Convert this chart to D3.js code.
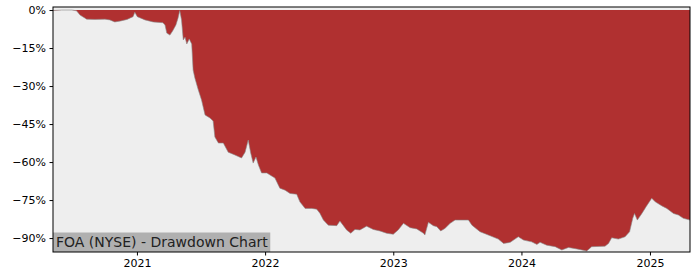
<!DOCTYPE html>
<html>
<head>
<meta charset="utf-8">
<script src="https://cdn.jsdelivr.net/npm/d3@7"></script>
<style>
  body { margin: 0; background: #fff; }
  svg text { font-family: "DejaVu Sans", sans-serif; }
</style>
</head>
<body>
<svg id="chart" width="700" height="280"></svg>
<script>
// Drawdown dates and values (percent below running peak)
var dates = [
  "2020-05-07","2020-06-01","2020-06-30","2020-07-13","2020-07-23","2020-08-11","2020-09-03","2020-10-02",
  "2020-10-16","2020-10-30","2020-11-16","2020-12-04","2020-12-21","2020-12-26","2021-01-02","2021-01-24",
  "2021-02-16","2021-03-16","2021-03-22","2021-03-27","2021-04-05","2021-04-13","2021-04-22","2021-04-28",
  "2021-05-03","2021-05-08","2021-05-13","2021-05-18","2021-05-23","2021-05-30","2021-06-06","2021-06-10",
  "2021-06-15","2021-06-24","2021-07-04","2021-07-14","2021-07-28","2021-08-06","2021-08-11","2021-08-21",
  "2021-09-04","2021-09-18","2021-10-07","2021-10-26","2021-11-05","2021-11-14","2021-11-21","2021-11-28",
  "2021-12-06","2021-12-13","2021-12-22","2022-01-06","2022-01-15","2022-01-29","2022-02-12","2022-02-27",
  "2022-03-13","2022-04-01","2022-04-10","2022-04-25","2022-05-14","2022-05-28","2022-06-06","2022-06-16",
  "2022-06-30","2022-07-24","2022-08-02","2022-08-12","2022-08-21","2022-09-02","2022-09-14","2022-09-28",
  "2022-10-17","2022-11-05","2022-11-24","2022-12-13","2023-01-01","2023-01-15","2023-01-30","2023-02-18",
  "2023-03-09","2023-03-28","2023-04-01","2023-04-11","2023-04-25","2023-05-05","2023-05-16","2023-05-28",
  "2023-06-12","2023-06-26","2023-08-03","2023-08-13","2023-09-05","2023-10-04","2023-10-27","2023-11-11",
  "2023-11-30","2023-12-23","2024-01-07","2024-01-30","2024-02-14","2024-02-23","2024-03-13","2024-04-06",
  "2024-04-25","2024-05-14","2024-06-07","2024-07-05","2024-07-19","2024-08-26","2024-09-05","2024-09-14",
  "2024-10-03","2024-10-22","2024-11-04","2024-11-13","2024-11-18","2024-11-26","2024-12-09","2024-12-21",
  "2025-01-06","2025-01-16","2025-02-04","2025-02-18","2025-03-09","2025-03-23","2025-04-06","2025-04-25"
];
var drawdown = [
  -0.2, 0, 0, -0.3, -2.0, -3.6, -3.7, -3.6,
  -3.9, -4.7, -4.3, -3.7, -2.6, -0.9, -2.6, -3.9,
  -4.7, -5.0, -5.9, -9.1, -9.9, -8.2, -5.9, -3.2,
  -0.2, -3.9, -11.8, -10.7, -13.4, -11.4, -13.4, -23.7,
  -26.8, -31.2, -35.5, -41.4, -42.6, -43.8, -50.1, -52.5,
  -52.5, -56.1, -57.2, -58.4, -56.1, -51.3, -56.4, -60.4,
  -58.0, -61.2, -64.3, -64.3, -65.1, -66.3, -70.3, -71.1,
  -72.4, -72.7, -75.7, -78.3, -78.3, -78.6, -80.2, -82.9,
  -84.9, -85.1, -83.3, -85.1, -86.8, -88.1, -86.6, -86.8,
  -85.3, -86.6, -87.2, -88.1, -88.5, -86.8, -84.2, -85.9,
  -86.4, -88.1, -88.8, -83.8, -85.1, -85.5, -87.2, -86.2,
  -84.2, -82.9, -82.9, -84.9, -87.5, -89.1, -90.4, -92.1,
  -91.7, -89.5, -90.8, -91.5, -92.5, -91.7, -92.8, -93.4,
  -94.7, -93.7, -94.3, -95.1, -93.4, -93.2, -92.1, -89.9,
  -90.4, -89.5, -87.5, -82.2, -80.3, -82.9, -80.3, -77.6,
  -74.3, -75.7, -77.3, -78.3, -80.3, -80.9, -82.2, -82.9
];
var yTicks = [0, -15, -30, -45, -60, -75, -90];
var xTickYears = [2021, 2022, 2023, 2024, 2025];
var chartLabel = "FOA (NYSE) - Drawdown Chart";

var parse = d3.timeParse("%Y-%m-%d");
var data = dates.map(function (d, i) { return { date: parse(d), value: drawdown[i] }; });

var margin = { top: 7, right: 10, bottom: 28, left: 53 };
var width = 700 - margin.left - margin.right;
var height = 280 - margin.top - margin.bottom;

var svg = d3.select("#chart");
var g = svg.append("g").attr("transform", "translate(" + margin.left + "," + margin.top + ")");

var x = d3.scaleTime()
  .domain(d3.extent(data, function (d) { return d.date; }))
  .range([0, width]);
var y = d3.scaleLinear()
  .domain([-95.5, 1.2])
  .range([height, 0]);

// plot background
g.append("rect").attr("width", width).attr("height", height).attr("fill", "#eeeeee");

// red area between zero and the drawdown curve
var area = d3.area()
  .x(function (d) { return x(d.date); })
  .y0(y(0))
  .y1(function (d) { return y(d.value); });
g.append("path").datum(data)
  .attr("d", area)
  .attr("fill", "#b03030");
g.append("path").datum(data)
  .attr("d", d3.line().x(function (d) { return x(d.date); }).y(function (d) { return y(d.value); }))
  .attr("fill", "none")
  .attr("stroke", "#8a8a8a")
  .attr("stroke-width", 0.6);

// label box
var labelG = g.append("g");
var labelText = labelG.append("text")
  .attr("x", 3)
  .attr("y", height - 5)
  .attr("font-size", 14)
  .attr("fill", "#222")
  .text(chartLabel);
var bb = labelText.node().getBBox();
labelG.insert("rect", "text")
  .attr("x", 0)
  .attr("y", height - 19.5)
  .attr("width", bb.width + 5)
  .attr("height", 19.5)
  .attr("fill", "#b0b0b0");

// axes
var yAxis = d3.axisLeft(y)
  .tickValues(yTicks)
  .tickSize(3.5)
  .tickPadding(3.5)
  .tickFormat(function (d) { return (d < 0 ? "\u2212" + Math.abs(d) : d) + "%"; });
var yG = g.append("g").call(yAxis);

var xAxis = d3.axisBottom(x)
  .tickValues(xTickYears.map(function (yr) { return new Date(yr, 0, 1); }))
  .tickSize(3.5)
  .tickPadding(3.5)
  .tickFormat(d3.timeFormat("%Y"));
var xG = g.append("g").attr("transform", "translate(0," + height + ")").call(xAxis);

[yG, xG].forEach(function (ax) {
  ax.select(".domain").remove();
  ax.selectAll("text").attr("font-size", 11).attr("fill", "#000").style("font-family", "DejaVu Sans");
  ax.selectAll("line").attr("stroke", "#000");
});

// frame
g.append("rect").attr("width", width).attr("height", height)
  .attr("fill", "none").attr("stroke", "#000").attr("stroke-width", 1);
</script>
</body>
</html>
